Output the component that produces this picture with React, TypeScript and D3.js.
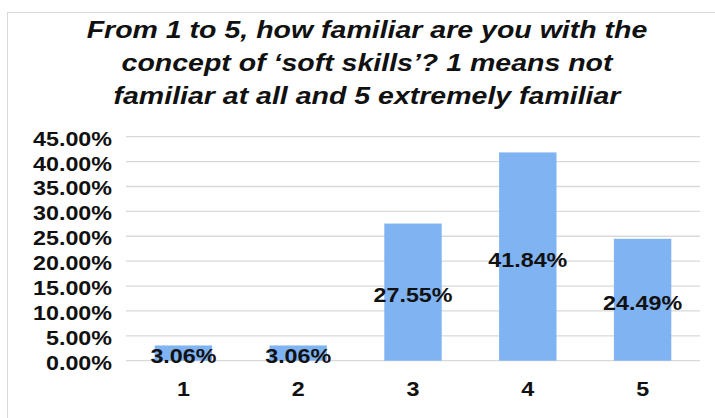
import React from "react";
import * as d3 from "d3";

const categories = ["1", "2", "3", "4", "5"];
const values = [3.06, 3.06, 27.55, 41.84, 24.49];
const yTicks = [0, 5, 10, 15, 20, 25, 30, 35, 40, 45];
const titleLines = [
  "From 1 to 5, how familiar are you with the",
  "concept of \u2018soft skills\u2019? 1 means not",
  "familiar at all and 5 extremely familiar",
];

const W = 715;
const H = 418;
const FONT = "'Liberation Sans', Arial, sans-serif";
const TITLE_SX = 1.24;
const LABEL_SX = 1.165;

function SText({
  x,
  y,
  sx,
  anchor,
  size,
  italic,
  children,
}: {
  x: number;
  y: number;
  sx: number;
  anchor: "start" | "middle" | "end";
  size: number;
  italic?: boolean;
  children: React.ReactNode;
}) {
  return (
    <text
      transform={`translate(${x},${y}) scale(${sx},1)`}
      textAnchor={anchor}
      fontSize={size}
      fontWeight="bold"
      fontStyle={italic ? "italic" : "normal"}
      fill="#111"
    >
      {children}
    </text>
  );
}

export default function App() {
  const y = d3.scaleLinear().domain([0, 45]).range([360.7, 136.7]);
  const x = d3
    .scaleBand<string>()
    .domain(categories)
    .range([126, 700])
    .paddingInner(0.5)
    .paddingOuter(0.25);

  return (
    <svg
      width={W}
      height={H}
      style={{ position: "absolute", left: 0, top: 0, background: "#fff" }}
      fontFamily={FONT}
    >
      <rect x={0} y={0} width={W} height={H} fill="#fff" />
      <rect x={7.5} y={12.5} width={W + 20} height={H + 20} fill="none" stroke="#d9d9d9" strokeWidth={1} />
      {titleLines.map((t, i) => (
        <SText key={i} x={367} y={38.3 + i * 32.9} sx={TITLE_SX} anchor="middle" size={23} italic>
          {t}
        </SText>
      ))}
      {yTicks.map((t) => (
        <g key={t}>
          <line x1={126} x2={700} y1={y(t)} y2={y(t)} stroke="#d9d9d9" strokeWidth={1.3} />
          <SText x={112} y={y(t) + 9} sx={LABEL_SX} anchor="end" size={20}>
            {t.toFixed(2) + "%"}
          </SText>
        </g>
      ))}
      {categories.map((c, i) => (
        <rect
          key={c}
          x={x(c)!}
          y={y(values[i])}
          width={x.bandwidth()}
          height={y(0) - y(values[i])}
          fill="#80b3f2"
        />
      ))}
      {categories.map((c, i) => (
        <SText
          key={c}
          x={x(c)! + x.bandwidth() / 2}
          y={(y(values[i]) + y(0)) / 2 + 10}
          sx={LABEL_SX}
          anchor="middle"
          size={20}
        >
          {values[i].toFixed(2) + "%"}
        </SText>
      ))}
      {categories.map((c) => (
        <SText key={c} x={x(c)! + x.bandwidth() / 2} y={396} sx={LABEL_SX} anchor="middle" size={20}>
          {c}
        </SText>
      ))}
    </svg>
  );
}
